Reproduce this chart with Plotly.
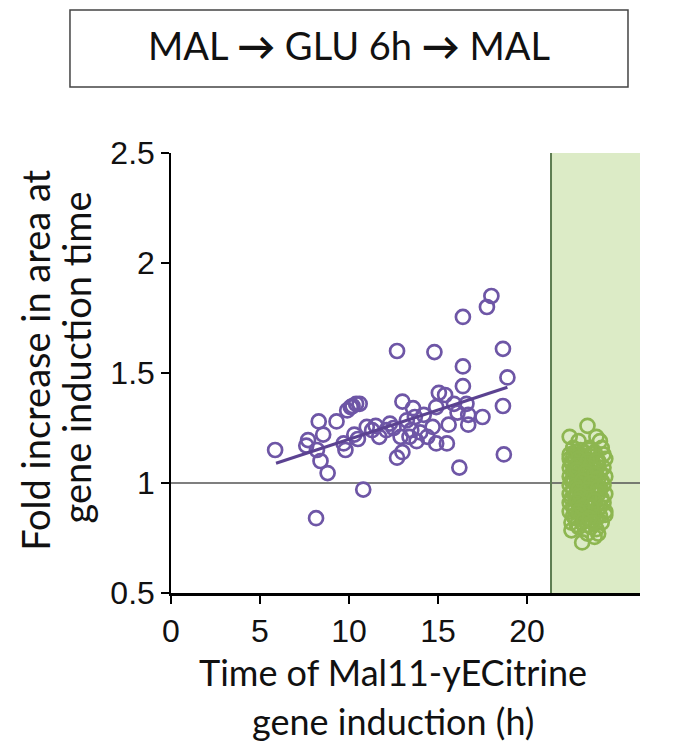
import plotly.graph_objects as go

# MAL -> GLU 6h -> MAL : purple = induced cells, green = non-induced
mal_time = [5.85, 7.6, 7.7, 8.15, 8.2, 8.3, 8.4, 8.55, 8.8, 9.3, 9.7, 9.8, 9.9, 10.1,
            10.2, 10.3, 10.4, 10.6, 10.5, 10.8, 11.0, 11.3, 11.5, 11.7, 12.1, 12.3, 12.5,
            12.7, 12.7, 12.9, 13.0, 13.0, 13.25, 13.4, 13.5, 13.6, 13.7, 13.8, 14.0, 14.2,
            14.4, 14.7, 14.8, 14.9, 14.9, 15.05, 15.4, 15.5, 15.6, 15.9, 16.1, 16.2, 16.4,
            16.4, 16.4, 16.6, 16.7, 16.7, 17.5, 17.75, 18.0, 18.65, 18.9, 18.65, 18.7]
mal_fold = [1.15, 1.17, 1.195, 0.84, 1.15, 1.28, 1.10, 1.22, 1.045, 1.28, 1.18, 1.15, 1.33, 1.345,
            1.35, 1.22, 1.36, 1.36, 1.20, 0.97, 1.255, 1.24, 1.26, 1.21, 1.24, 1.27, 1.25,
            1.60, 1.115, 1.21, 1.37, 1.14, 1.285, 1.21, 1.24, 1.34, 1.30, 1.19, 1.23, 1.31,
            1.21, 1.255, 1.595, 1.345, 1.18, 1.41, 1.40, 1.18, 1.265, 1.36, 1.32, 1.07, 1.755,
            1.53, 1.44, 1.36, 1.31, 1.265, 1.30, 1.80, 1.85, 1.61, 1.48, 1.35, 1.13]

fit_time = [5.9, 18.9]
fit_fold = [1.09, 1.435]

non_time = [23.4, 22.4, 23.9, 24.1, 22.9, 22.6, 23.5, 24.2, 22.4, 23.0, 23.7, 24.3,
            22.4, 23.3, 24.4, 22.5, 22.9, 23.6, 24.0, 22.4, 23.2, 23.8, 24.3,
            22.6, 23.0, 23.5, 24.1, 22.4, 22.8, 23.3, 23.9, 24.4, 22.5, 23.1, 23.6, 24.2,
            22.4, 22.9, 23.4, 23.8, 24.3, 22.6, 23.2, 23.7, 24.1, 22.4, 22.8, 23.4, 24.0, 24.4,
            22.5, 23.0, 23.6, 24.2, 22.4, 22.9, 23.3, 23.8, 24.3, 22.6, 23.1, 23.7, 24.1,
            22.4, 23.0, 23.5, 24.4, 24.4, 22.7, 23.3, 23.9, 22.5, 23.1, 24.2, 22.9, 23.6,
            22.5, 23.4, 24.0, 23.8, 23.1,
            23.0, 23.4, 23.2, 23.6, 22.8, 23.3, 23.5, 23.1, 22.7, 23.9, 23.3, 23.7,
            22.7, 23.2, 23.8, 22.6, 23.1, 23.6, 24.0, 22.8, 23.3, 23.9, 22.7, 23.2,
            23.7, 22.6, 23.0, 23.5, 24.0, 22.8, 23.4, 23.9, 22.7, 23.2, 23.7, 22.9,
            23.5, 24.0, 22.7, 23.3, 23.8, 22.6, 23.1, 23.6, 24.1, 22.8, 23.4, 23.9,
            23.0, 23.5, 22.9, 23.4, 23.9, 22.8, 23.3, 23.8, 23.1, 23.6, 22.9, 23.4,
            24.0, 23.0, 23.5, 22.8, 23.3, 23.8, 23.1, 23.6, 22.9, 23.5, 23.2, 23.7]
non_fold = [1.26, 1.21, 1.21, 1.19, 1.19, 1.16, 1.16, 1.16, 1.13, 1.13, 1.13, 1.13,
            1.11, 1.11, 1.11, 1.09, 1.09, 1.09, 1.09, 1.07, 1.07, 1.07, 1.07,
            1.05, 1.05, 1.05, 1.05, 1.03, 1.03, 1.03, 1.03, 1.03, 1.01, 1.01, 1.01, 1.01,
            0.99, 0.99, 0.99, 0.99, 0.99, 0.97, 0.97, 0.97, 0.97, 0.95, 0.95, 0.95, 0.95, 0.95,
            0.93, 0.93, 0.93, 0.93, 0.91, 0.91, 0.91, 0.91, 0.91, 0.89, 0.89, 0.89, 0.89,
            0.87, 0.87, 0.87, 0.87, 0.855, 0.84, 0.84, 0.84, 0.82, 0.82, 0.82, 0.80, 0.80,
            0.785, 0.77, 0.77, 0.755, 0.73,
            1.12, 1.08, 1.04, 1.00, 1.00, 0.96, 0.92, 0.88, 1.10, 0.98, 0.86, 1.02,
            1.14, 1.14, 1.14, 1.12, 1.12, 1.12, 1.10, 1.08, 1.08, 1.06, 1.06, 1.06,
            1.04, 1.02, 1.02, 1.00, 1.02, 0.98, 0.96, 0.96, 0.94, 0.94, 0.92, 0.90,
            0.90, 0.88, 0.88, 0.86, 0.86, 0.85, 0.85, 0.83, 0.85, 0.81, 0.81, 0.79,
            1.15, 1.15, 1.11, 1.10, 1.10, 1.06, 1.05, 1.04, 1.01, 1.00, 0.97, 0.97,
            0.98, 0.94, 0.93, 0.92, 0.90, 0.92, 0.89, 0.89, 0.87, 0.84, 0.83, 0.82]

induction_start = 21.35
x_max = 26.35

purple = "#6e56a6"
green = "#8db650"
txt = "#111111"

fig = go.Figure()

fig.add_trace(go.Scatter(x=non_time, y=non_fold, mode="markers",
                         marker=dict(symbol="circle-open", size=14, color=green,
                                     line=dict(width=2.7, color=green)),
                         showlegend=False))
fig.add_trace(go.Scatter(x=mal_time, y=mal_fold, mode="markers",
                         marker=dict(symbol="circle-open", size=14, color=purple,
                                     line=dict(width=2.7, color=purple)),
                         showlegend=False))
fig.add_trace(go.Scatter(x=fit_time, y=fit_fold, mode="lines",
                         line=dict(color="#5b4291", width=3), showlegend=False))

# green band for the cells that never induce
fig.add_shape(type="rect", x0=induction_start, x1=x_max, y0=0.5, y1=2.5,
              fillcolor="#dcebc6", line=dict(width=0), layer="below")
fig.add_shape(type="line", x0=induction_start, x1=induction_start, y0=0.5, y1=2.5,
              line=dict(color="#5e7d52", width=2))
fig.add_shape(type="line", x0=0, x1=x_max, y0=1, y1=1,
              line=dict(color="#555555", width=1.5), layer="below")

# title box
fig.add_shape(type="rect", xref="paper", yref="paper", x0=-0.2154, x1=0.9744, y0=1.15, y1=1.325,
              line=dict(color="#444444", width=1.5), fillcolor="white")
fig.add_annotation(text="MAL <b>\u2192</b> GLU 6h <b>\u2192</b> MAL", xref="paper", yref="paper",
                   x=0.3795, y=1.2455, xanchor="center", yanchor="middle", showarrow=False,
                   font=dict(family="Lato", size=38, color=txt))

# axis titles, one annotation per line
fig.add_annotation(text="Fold increase in area at", xref="paper", yref="paper",
                   x=-0.29, y=0.53, xanchor="center", yanchor="middle", textangle=-90,
                   showarrow=False, font=dict(family="Lato", size=38, color=txt))
fig.add_annotation(text="gene induction time", xref="paper", yref="paper",
                   x=-0.2026, y=0.535, xanchor="center", yanchor="middle", textangle=-90,
                   showarrow=False, font=dict(family="Lato", size=38, color=txt))
fig.add_annotation(text="Time of Mal11-yECitrine", xref="paper", yref="paper",
                   x=0.473, y=-0.18, xanchor="center", yanchor="middle",
                   showarrow=False, font=dict(family="Lato", size=36, color=txt))
fig.add_annotation(text="gene induction (h)", xref="paper", yref="paper",
                   x=0.473, y=-0.291, xanchor="center", yanchor="middle",
                   showarrow=False, font=dict(family="Lato", size=36, color=txt))

fig.update_xaxes(range=[0, x_max], tickvals=[0, 5, 10, 15, 20], ticks="outside", ticklen=8,
                 tickwidth=1.5, tickcolor="black", showline=True, linecolor="black", linewidth=2.5,
                 showgrid=False, zeroline=False,
                 tickfont=dict(family="Liberation Sans", size=32, color=txt))
fig.update_yaxes(range=[0.5, 2.5], tickvals=[0.5, 1, 1.5, 2, 2.5], ticktext=["0.5", "1", "1.5", "2", "2.5"],
                 ticks="outside", ticklen=8, tickwidth=1.5, tickcolor="black",
                 showline=True, linecolor="black", linewidth=1.5, showgrid=False, zeroline=False,
                 tickfont=dict(family="Liberation Sans", size=32, color=txt))

# page adds an 8px body margin, so margins are shifted to land on the reference pixels
fig.update_layout(width=698, height=749, plot_bgcolor="white", paper_bgcolor="white",
                  margin=dict(l=163, r=66, t=145, b=164))

fig.write_html("out.html")
